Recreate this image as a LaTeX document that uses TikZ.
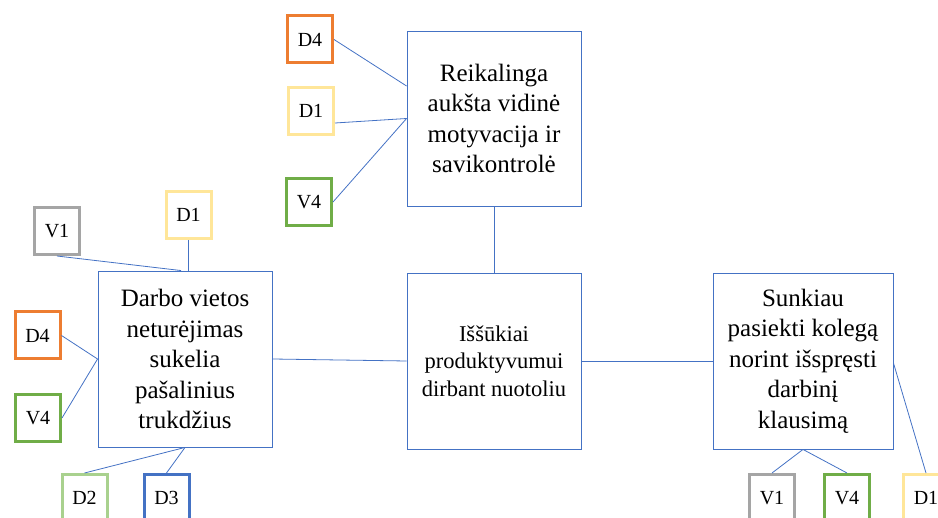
\documentclass[tikz,border=0pt]{standalone}
\usepackage{fontspec}
\setmainfont{Liberation Serif}
\definecolor{lnblue}{HTML}{4472C4}
\definecolor{cOrange}{HTML}{ED7D31}
\definecolor{cYellow}{HTML}{FFE699}
\definecolor{cGreen}{HTML}{70AD47}
\definecolor{cGray}{HTML}{A5A5A5}
\definecolor{cLGreen}{HTML}{A9D18E}
\definecolor{cBlue}{HTML}{4472C4}
\begin{document}
\begin{tikzpicture}[x=1pt,y=-1pt,
  bigbox/.style={draw=lnblue,line width=0.9pt,fill=white,minimum width=174pt,minimum height=175pt,inner sep=0pt,align=center,font=\fontsize{25}{30.5}\selectfont},
  smallbox/.style={draw=#1,line width=3pt,fill=white,minimum width=45pt,minimum height=47pt,inner sep=0pt,font=\fontsize{20}{23}\selectfont},
  link/.style={draw=lnblue,line width=0.8pt}]
\clip (0,0) rectangle (938,518);
\useasboundingbox (0,0) rectangle (938,518);
% main boxes
\node[bigbox] (T) at (494,118.5) {Reikalinga\\aukšta vidinė\\motyvacija ir\\savikontrolė};
\node[bigbox,font=\fontsize{22.5}{27.5}\selectfont,minimum height=176pt] (C) at (494,361) {Iššūkiai\\produktyvumui\\dirbant nuotoliu};
\node[bigbox,minimum height=176pt] (L) at (185,359) {Darbo vietos\\neturėjimas\\sukelia\\pašalinius\\trukdžius};
\node[bigbox,minimum width=180pt,minimum height=176pt] (R) at (803,361) {Sunkiau\\pasiekti kolegą\\norint išspręsti\\darbinį\\klausimą};
% top group
\node[smallbox=cOrange] (tD4) at (310,39.5) {D4};
\node[smallbox=cYellow] (tD1) at (311,111) {D1};
\node[smallbox=cGreen] (tV4) at (309,202) {V4};
% left group
\node[smallbox=cGray] (lV1) at (57,231) {V1};
\node[smallbox=cYellow] (lD1) at (188.5,215) {D1};
\node[smallbox=cOrange] (lD4) at (37.5,335.5) {D4};
\node[smallbox=cGreen] (lV4) at (38,418) {V4};
\node[smallbox=cLGreen] (lD2) at (84.5,498) {D2};
\node[smallbox=cBlue] (lD3) at (166.5,498) {D3};
% right group
\node[smallbox=cGray] (rV1) at (772,498) {V1};
\node[smallbox=cGreen] (rV4) at (847,498) {V4};
\node[smallbox=cYellow] (rD1) at (926,498) {D1};
% connectors
\draw[link] (tD4.east) -- ([yshift=32.5pt]T.west);
\draw[link] ([yshift=-12pt]tD1.east) -- (T.west);
\draw[link] (tV4.east) -- (T.west);
\draw[link] (T.south) -- (C.north);
\draw[link] (lV1.south) -- ([xshift=-4pt]L.north);
\draw[link] (lD1.south) -- (lD1.south |- L.north);
\draw[link] (lD4.east) -- (L.west);
\draw[link] (lV4.east) -- (L.west);
\draw[link] (lD2.north) -- (L.south);
\draw[link] (lD3.north) -- (L.south);
\draw[link] (L.east) -- (C.west);
\draw[link] (C.east) -- (R.west);
\draw[link] (R.south) -- (rV1.north);
\draw[link] (R.south) -- (rV4.north);
\draw[link] (rD1.north) -- ([yshift=-2pt]R.east);
\end{tikzpicture}
\end{document}
